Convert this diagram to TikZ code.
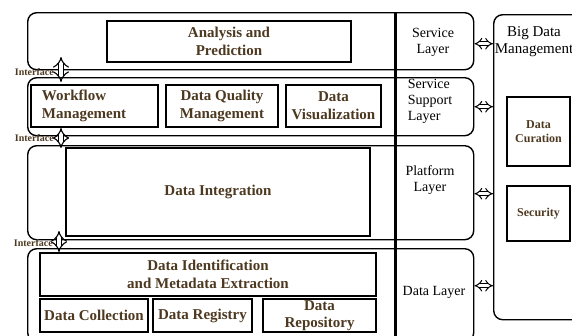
\documentclass[tikz,border=0pt]{standalone}
\usepackage{fontspec}
\setmainfont{Liberation Serif}
\usepackage{xcolor}
\usepackage{tikz}
\usetikzlibrary{arrows.meta}
\definecolor{boxtext}{RGB}{77,56,32}

\begin{document}
\begin{tikzpicture}[x=1bp,y=-1bp,
        layer/.style={draw,line width=1.4bp,rounded corners=9bp,inner sep=0pt,anchor=north west},
        box/.style={draw,line width=1.4bp,inner sep=2bp,align=center,text=boxtext,
            font=\fontsize{15bp}{18bp}\selectfont\bfseries},
        small box/.style={box,font=\fontsize{12bp}{14bp}\selectfont\bfseries},
        layer text/.style={align=center,inner sep=0pt,font=\fontsize{14bp}{16bp}\selectfont},
        iface/.style={text=boxtext,inner sep=0pt,anchor=east,font=\fontsize{10bp}{12bp}\selectfont\bfseries},
        link/.style={double=white,double distance=3bp,line width=1bp,
            {Implies[length=5bp,width=11bp]}-{Implies[length=5bp,width=11bp]}},
        iface link/.style={double=white,double distance=4.5bp,line width=1.1bp,
            {Implies[length=6bp,width=14bp]}-{Implies[length=6bp,width=14bp]}}]
        \useasboundingbox (0,0) rectangle (572,335);
        \clip (0,0) rectangle (572,335);

        \node[layer,minimum width=446bp,minimum height=57bp] (service) at (27,12) {};
        \node[layer,minimum width=446bp,minimum height=58bp] (support) at (27,77) {};
        \node[layer,minimum width=446bp,minimum height=94bp] (platform) at (27,145) {};
        \node[layer,minimum width=446bp,minimum height=93bp] (data) at (27,248) {};
        \node[layer,minimum width=110bp,minimum height=305bp] (bdm) at (493,14) {};

        \draw (395,12) coordinate (top) node[above]{};
        \draw (395,336) coordinate (bottom) node[above]{};
        \draw[line width=3bp] (top)--(bottom);

        \node[layer text] (servicetext) at (433,42) {Service\\Layer};
        \node[layer text,align=left] (supporttext) at (430,101) {Service\\Support\\Layer};
        \node[layer text] (platformtext) at (430,180) {Platform\\Layer};
        \node[layer text] (datatext) at (434,292) {Data Layer};
        \node[layer text,font=\fontsize{15bp}{17bp}\selectfont] (bdmtext) at (534,42) {Big Data\\Management};

        \node[box,minimum width=244bp,minimum height=41bp] (analysis) at (229,41.5) {Analysis and\\Prediction};
        \node[box,minimum height=42bp,inner xsep=11bp,text width=105bp,align=left] (workflow) at (94.5,106) {Workflow\\Management};
        \node[box,minimum width=112bp,minimum height=42bp] (quality) at (222,106) {Data Quality\\Management};
        \node[box,minimum width=95bp,minimum height=42bp] (visual) at (333.5,106) {Data\\Visualization};
        \node[box,minimum width=304bp,minimum height=88bp] (integration) at (218,192) {Data Integration};
        \node[box,minimum width=336bp,minimum height=43bp] (identification) at (208,274.5) {Data Identification\\and Metadata Extraction};
        \node[box,minimum width=108bp,minimum height=33bp] (collection) at (94,315.5) {Data Collection};
        \node[box,minimum width=99bp,minimum height=33bp] (registry) at (202.5,315.5) {Data Registry};
        \node[box,minimum width=113bp,minimum height=33bp,inner sep=0pt,font=\fontsize{15bp}{17bp}\selectfont\bfseries] (repository) at (319.5,315.5) {Data\\Repository};
        \node[small box,minimum width=63bp,minimum height=69bp] (curation) at (538.5,131.5) {Data\\Curation};
        \node[small box,minimum width=63bp,minimum height=55bp] (security) at (538.5,213.5) {Security};

        \draw[link] ([yshift=-2.5bp]service.east)--([yshift=-2.5bp]service.east -| bdm.west);
        \draw[link] (support.east)--(support.east -| bdm.west);
        \draw[link] ([yshift=-1bp]platform.east)--([yshift=-1bp]platform.east -| bdm.west);
        \draw[link] ([yshift=9.5bp]data.east)--([yshift=9.5bp]data.east -| bdm.west);

        \draw (61,57) coordinate (a1) node[above]{};
        \draw (61,82) coordinate (b1) node[above]{};
        \draw (61,128) coordinate (a2) node[above]{};
        \draw (61,148) coordinate (b2) node[above]{};
        \draw (59,231) coordinate (a3) node[above]{};
        \draw (59,252) coordinate (b3) node[above]{};
        \draw[iface link] (a1)--(b1);
        \draw[iface link] (a2)--(b2);
        \draw[iface link] (a3)--(b3);

        \node[iface] (iface1) at (54,72) {Interface};
        \node[iface] (iface2) at (54,138) {Interface};
        \node[iface] (iface3) at (53,243) {Interface};
    \end{tikzpicture}
\end{document}
